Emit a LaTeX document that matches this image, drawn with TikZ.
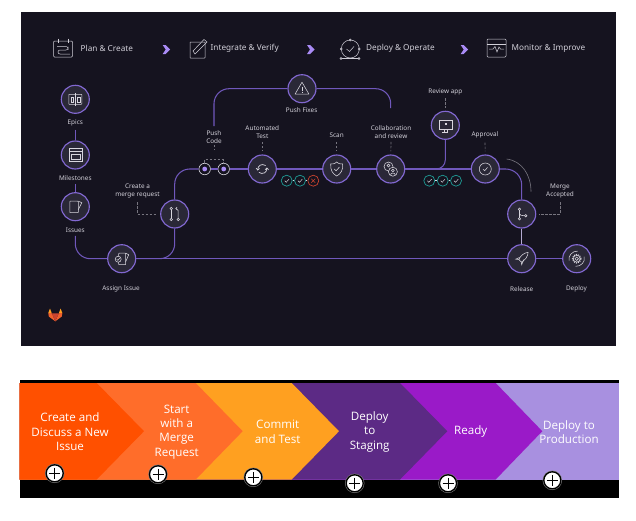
\documentclass[tikz,border=0pt]{standalone}
\usepackage{fontspec}
\setmainfont{Noto Sans}
\newfontfamily\bandfont{Open Sans}
\usetikzlibrary{calc}
\definecolor{panelbg}{HTML}{15131F}
\definecolor{nodebg}{HTML}{2A2837}
\definecolor{flowcol}{HTML}{7058BC}
\definecolor{ringcol}{HTML}{8268D2}
\definecolor{iconcol}{HTML}{D8D6DE}
\definecolor{capcol}{HTML}{D2D0D9}
\definecolor{dashcol}{HTML}{77757F}
\definecolor{chevcol}{HTML}{A98BF5}
\definecolor{passcol}{HTML}{1F9C96}
\definecolor{failcol}{HTML}{C9432F}
\definecolor{bandA}{HTML}{FF5000}
\definecolor{bandB}{HTML}{FF6D2A}
\definecolor{bandC}{HTML}{FFA020}
\definecolor{bandD}{HTML}{5C2A85}
\definecolor{bandE}{HTML}{9A1AC8}
\definecolor{bandF}{HTML}{A890E0}

\begin{document}
\begin{tikzpicture}[x=1pt,y=-1pt,
        stage/.style={circle,draw=ringcol,fill=nodebg,line width=1.15pt,minimum size=28pt,inner sep=0pt},
        pushdot/.style={circle,draw=iconcol,fill=panelbg,line width=.6pt,minimum size=11.5pt,inner sep=0pt},
        gate/.style={circle,draw=#1,line width=.7pt,minimum size=11pt,inner sep=0pt},
        caption/.style={text=capcol,align=center,inner sep=0pt,font=\fontsize{6.4}{8}\selectfont},
        headtext/.style={text=capcol,anchor=west,inner sep=0pt,font=\fontsize{8.2}{10}\selectfont},
        bandtext/.style={text=white,align=center,inner sep=0pt,font=\bandfont\fontsize{11.6}{14.3}\selectfont},
        plusdisc/.style={circle,draw=black,fill=white,line width=1.3pt,minimum size=17pt,inner sep=0pt,
          preaction={draw=gray,line width=2.4pt}},
        flow/.style={draw=flowcol,line width=1.05pt},
        tickline/.style={draw=dashcol,line width=.6pt,dash pattern=on 2.5pt off 1.5pt,shorten >=3pt},
        icon/.style={draw=iconcol,line width=.55pt},
        headicon/.style={draw=capcol,line width=.5pt}]
        \useasboundingbox (0,0) rectangle (636,520);
        \fill[panelbg] (21,12) rectangle (616,346);

        \node[headtext] (plan) at (80.5,48.3) {Plan \& Create};
        \node[headtext] (integrate) at (210.5,48.3) {Integrate \& Verify};
        \node[headtext] (operate) at (366,48.3) {Deploy \& Operate};
        \node[headtext] (improve) at (511.5,48.3) {Monitor \& Improve};
        \foreach \x in {162.7,307,460.7}
          \fill[chevcol] (\x,45) -- (\x+3,45) -- (\x+7.5,49.5) -- (\x+3,54) -- (\x,54) -- (\x+3,49.5) -- cycle;

        \begin{scope}[headicon]
          \draw[rounded corners=1pt] (53.5,41) rectangle (72.5,57);
          \draw (58,38.5) -- (58,43) (68,38.5) -- (68,43);
          \draw[rounded corners=2pt] (57,46.5) -- (68,46.5) -- (68,50) -- (58,50) -- (58,54) -- (70,54);
          \draw[rounded corners=.5pt] (190,42) rectangle (205,58);
          \draw (195,54) -- (207,42) -- (204,39.5) -- (193,51) -- cycle;
          \draw (350.3,49) circle (9);
          \draw (346.5,49) -- (349.5,51.5) -- (354,46.5);
          \draw (341,58.5) -- (359,58.5);
          \draw[fill=panelbg] (350.3,40) circle (1) (341.3,49) circle (1) (359.3,49) circle (1) (341,58.5) circle (1) (359,58.5) circle (1);
          \draw[rounded corners=1pt] (487,39) rectangle (506,57);
          \draw (487,44.5) -- (506,44.5);
          \draw (489,49) -- (493,49) -- (495,46.5) -- (497,52) -- (499,47) -- (500.5,49) -- (504,49);
        \end{scope}

        \node[stage] (epics) at (75.3,99.3) {};
        \node[stage] (milestones) at (75.3,155) {};
        \node[stage] (issues) at (75.3,206.7) {};
        \node[stage] (assign) at (121.7,258.7) {};
        \node[stage] (request) at (174.7,214) {};
        \node[stage] (fixes) at (302,88.7) {};
        \node[stage] (autotest) at (262.3,169) {};
        \node[stage] (scan) at (336.7,169) {};
        \node[stage] (collab) at (390.7,169) {};
        \node[stage] (review) at (445.3,125.3) {};
        \node[stage] (approval) at (485.3,169) {};
        \node[stage] (accepted) at (521.7,214) {};
        \node[stage] (release) at (521.7,258.7) {};
        \node[stage] (deploy) at (576.7,258.7) {};
        \node[pushdot] (pushA) at (204.7,169) {};
        \node[pushdot] (pushB) at (223.7,169) {};

        \node[caption] (epicscap) at (75.3,122.8) {Epics};
        \node[caption] (milestonescap) at (75.3,178.3) {Milestones};
        \node[caption] (issuescap) at (75.3,230.3) {Issues};
        \node[caption] (assigncap) at (121,288.8) {Assign Issue};
        \node[caption] (requestcap) at (137.5,190.8) {Create a\\merge request};
        \node[caption] (pushcap) at (214,137.3) {Push\\Code};
        \node[caption] (autotestcap) at (262.3,132.3) {Automated\\Test};
        \node[caption] (fixescap) at (301.7,110.3) {Push Fixes};
        \node[caption] (scancap) at (336.7,135.3) {Scan};
        \node[caption] (collabcap) at (391,132.3) {Collaboration\\and review};
        \node[caption] (reviewcap) at (445.3,91.8) {Review app};
        \node[caption] (approvalcap) at (485,135.3) {Approval};
        \node[caption] (acceptedcap) at (560,190.8) {Merge\\Accepted};
        \node[caption] (releasecap) at (521.7,288.8) {Release};
        \node[caption] (deploycap) at (576.5,288.8) {Deploy};

        \coordinate (fixesdrop) at (214,126);
        \coordinate (collabrise) at (390.7,108);
        \coordinate (reviewjoin) at (425,169);
        \coordinate (arcstart) at (506.7,159);
        \coordinate (arcend) at (531,191.7);

        \draw[flow] (epicscap.south) ++(0,3.5) -- (milestones);
        \draw[flow] (milestonescap.south) ++(0,3) -- (issues);
        \draw[flow,rounded corners=15pt] (issuescap.south) ++(0,3) |- (assign);
        \draw[flow] (assign) -- (release);
        \draw[flow,rounded corners=15pt] (assign) -| (request);
        \draw[flow,rounded corners=15pt] (request) |- (pushA);
        \draw[flow] (pushA) -- (pushB);
        \draw[flow] (pushB) -- (autotest);
        \draw[flow] (autotest) -- (scan);
        \draw[flow] (scan) -- (collab);
        \draw[flow] (collab) -- (approval);
        \draw[flow,rounded corners=15pt] (fixesdrop) |- (fixes);
        \draw[flow,rounded corners=15pt] (collabrise) |- (fixes);
        \draw[flow,rounded corners=9pt] (review) |- (reviewjoin);
        \draw[flow,rounded corners=16pt] (approval) -| (accepted);
        \draw[iconcol!65!flowcol,line width=1.05pt] (accepted) -- (release);
        \draw[flow] (release) -- (deploy);
        \draw[dashcol,line width=.6pt] (arcstart) .. controls (522,161) and (531,175) .. (arcend);

        \draw[tickline,shorten >=0pt] (pushcap.south) ++(0,1) -- ++(0,5);
        \draw[tickline,shorten >=0pt] (pushA) ++(0,-6.5) -- ++(0,-3) -- ++(19,0) -- ++(0,3);
        \draw[tickline] (autotestcap.south) ++(0,3) -- (autotest);
        \draw[tickline] (scancap.south) ++(0,4) -- (scan);
        \draw[tickline] (collabcap.south) ++(0,3) -- (collab);
        \draw[tickline] (reviewcap.south) ++(0,3) -- (review);
        \draw[tickline] (approvalcap.south) ++(0,4) -- (approval);
        \draw[tickline] (requestcap.south) ++(0,4) |- (request);
        \draw[tickline] (acceptedcap.south) ++(0,4) |- (accepted);

        \fill[chevcol] (pushA) circle (2.4);
        \fill[chevcol] (pushB) circle (2.4);

        \foreach \name/\x/\y/\col in {gateA/286.7/180.7/passcol,gateB/300/180.7/passcol,gateC/313.3/180.7/failcol,
            gateD/429.3/180.7/passcol,gateE/442.7/180.7/passcol,gateF/456/180.7/passcol}
          \node[gate=\col] (\name) at (\x,\y) {};
        \draw[iconcol,line width=.5pt] (gateA) -- (gateB);
        \draw[iconcol,line width=.5pt] (gateB) -- (gateC);
        \draw[iconcol,line width=.5pt] (gateD) -- (gateE);
        \draw[iconcol,line width=.5pt] (gateE) -- (gateF);
        \foreach \name in {gateA,gateB,gateD,gateE,gateF}
          \draw[icon,line width=.45pt] (\name) ++(-2,0) -- ++(1.5,1.6) -- ++(2.8,-3.2);
        \draw[failcol,line width=.5pt] (gateC) +(-2,-2) -- +(2,2) +(-2,2) -- +(2,-2);

        \begin{scope}[shift={(epics)},icon]
          \draw[rounded corners=.5pt] (-6.5,-5) rectangle (6.5,5);
          \draw (0,-6.5) -- (0,6.5);
          \draw (-4.5,-2.5) rectangle (-2,2.5) (2,-2.5) rectangle (4.5,2.5);
        \end{scope}
        \begin{scope}[shift={(milestones)},icon]
          \draw (-6.5,-6.5) rectangle (6.5,6.5);
          \draw (-6.5,-3.5) -- (6.5,-3.5);
          \draw (-4.5,-.5) rectangle (4.5,4);
        \end{scope}
        \begin{scope}[shift={(issues)},icon]
          \draw[rounded corners=.5pt] (-5.5,-5.5) rectangle (3,6);
          \draw (3,-5.5) -- (6.5,-4) -- (3,3);
        \end{scope}
        \begin{scope}[shift={(assign)},icon]
          \draw[rounded corners=.5pt] (-3,-5.5) rectangle (4,6);
          \draw (4,-5.5) -- (7,-4) -- (4,3);
          \draw[fill=nodebg] (-3.5,.5) circle (3);
          \draw (-5,.5) -- (-3.8,1.6) -- (-2,-.6);
        \end{scope}
        \begin{scope}[shift={(request)},icon]
          \draw (-3.5,-5.5) circle (1.2) (-3.5,5.5) circle (1.2) (3.5,5.5) circle (1.2);
          \draw (-3.5,-4.3) -- (-3.5,4.3);
          \draw (3.5,4.3) -- (3.5,-3.5) -- (1,-5.5);
          \draw (1,-5.5) -- (2.4,-6.8) (1,-5.5) -- (2.6,-4.4);
        \end{scope}
        \begin{scope}[shift={(autotest)},icon,line width=.7pt]
          \draw (-4.6,1) .. controls (-4.8,-3.5) and (-.5,-6) .. (3.4,-3.4);
          \draw (4.6,-1) .. controls (4.8,3.5) and (.5,6) .. (-3.4,3.4);
          \draw (-6.2,-.8) -- (-4.6,1) -- (-2.8,-.6);
          \draw (6.2,.8) -- (4.6,-1) -- (2.8,.6);
        \end{scope}
        \begin{scope}[shift={(scan)},icon]
          \draw (-6,-5) .. controls (-2,-5) and (-1,-6) .. (0,-7) .. controls (1,-6) and (2,-5) .. (6,-5)
            .. controls (6.5,1) and (4,5) .. (0,7) .. controls (-4,5) and (-6.5,1) .. (-6,-5) -- cycle;
          \draw (-2.5,0) -- (-.6,1.8) -- (2.8,-2);
        \end{scope}
        \begin{scope}[shift={(collab)},icon]
          \draw (-2.2,-2.5) circle (4.5);
          \draw[fill=nodebg] (2.2,2.7) circle (4.5);
          \draw (-2.2,-3.5) circle (1.4) (2.2,1.5) circle (1.4);
          \draw (-.2,5.8) .. controls (0,3.5) and (4.4,3.5) .. (4.6,5.8);
        \end{scope}
        \begin{scope}[shift={(fixes)},icon]
          \draw[line join=round] (0,-6.5) -- (7,5.5) -- (-7,5.5) -- cycle;
          \draw (0,-2) -- (0,2) (0,3) -- (0,3.9);
        \end{scope}
        \begin{scope}[shift={(review)},icon]
          \draw (-6.5,-5) rectangle (6.5,4);
          \draw (-3,6.5) -- (3,6.5) (-1.5,4) -- (-1.5,6.5) (1.5,4) -- (1.5,6.5);
          \fill[iconcol] (0,-2) rectangle (1.6,-.4);
        \end{scope}
        \begin{scope}[shift={(approval)},icon]
          \draw (0,0) circle (6);
          \draw (-2.2,.3) -- (-.6,1.7) -- (2.2,-1.6);
        \end{scope}
        \begin{scope}[shift={(accepted)},icon]
          \draw (-2.3,-4.8) circle (1.2) (-2.3,4.8) circle (1.2) (4,1.7) circle (1.2);
          \draw (-2.3,-3.6) -- (-2.3,3.6);
          \draw (-2.3,-.5) .. controls (-2.3,1.4) and (0,1.7) .. (2.8,1.7);
        \end{scope}
        \begin{scope}[shift={(release)},icon,scale=.85]
          \draw[line join=round] (7.5,-7.5) .. controls (3,-7) and (-1,-4) .. (-3.5,1) -- (-.5,4) .. controls (4,2) and (7.5,-3) .. (7.5,-7.5) -- cycle;
          \draw (-2.5,-1.5) -- (-7,.5) -- (-3.5,1);
          \draw (2.5,1) -- (0,7) -- (-.5,4);
        \end{scope}
        \begin{scope}[shift={(deploy)},icon]
          \draw (0,0) circle (1.7);
          \draw[densely dotted,line width=1.1pt] (0,0) circle (4.3);
          \draw (0,0) circle (3.4);
          \draw (-7.5,2) .. controls (-9,-3) and (-4,-8) .. (1,-7.6);
          \draw (7.5,-2) .. controls (9,3) and (4,8) .. (-1,7.6);
        \end{scope}

        \fill[bandC] (48.3,313) -- (50,308.5) -- (51.8,313.3) -- cycle;
        \fill[bandC] (62.3,313) -- (60.6,308.5) -- (58.8,313.3) -- cycle;
        \fill[failcol!30!bandB] (48.3,313) -- (51.8,313.3) -- (55.3,321.3) -- (48.8,316.5) -- cycle;
        \fill[failcol!30!bandB] (62.3,313) -- (58.8,313.3) -- (55.3,321.3) -- (61.8,316.5) -- cycle;
        \fill[failcol] (51.8,313.3) -- (58.8,313.3) -- (55.3,321.3) -- cycle;

        \fill[black] (19.5,380) rectangle (619,383);
        \fill[black] (19.5,479.5) rectangle (619,498);
        \fill[bandF] (19.5,383) rectangle (619,479.5);
        \foreach \sh/\tip/\col in {495.7/542.3/bandE,400/447.3/bandD,291.7/339/bandC,195.7/242.7/bandB,96.7/144/bandA}
          \fill[\col] (19.5,383) -- (\sh,383) -- (\tip,431.2) -- (\sh,479.5) -- (19.5,479.5) -- cycle;

        \node[bandtext] (create) at (70,431.8) {Create and\\Discuss a New\\Issue};
        \node[bandtext] (start) at (176.7,431.8) {Start\\with a\\Merge\\Request};
        \node[bandtext] (commit) at (277.7,431.8) {Commit\\and Test};
        \node[bandtext] (staging) at (369.7,431.8) {Deploy\\to\\Staging};
        \node[bandtext] (ready) at (470.7,431.8) {Ready};
        \node[bandtext] (production) at (569,431.8) {Deploy to\\Production};

        \foreach \name/\x/\y in {plusA/54.7/473.3,plusB/158/474.3,plusC/253.3/477.3,
            plusD/354.7/483.3,plusE/448/483.3,plusF/552.3/480.3} {
          \node[plusdisc] (\name) at (\x,\y) {};
          \draw[black,line width=.7pt] (\name) +(-5.5,0) -- +(5.5,0) +(0,-5.5) -- +(0,5.5);
        }
  \end{tikzpicture}
\end{document}
